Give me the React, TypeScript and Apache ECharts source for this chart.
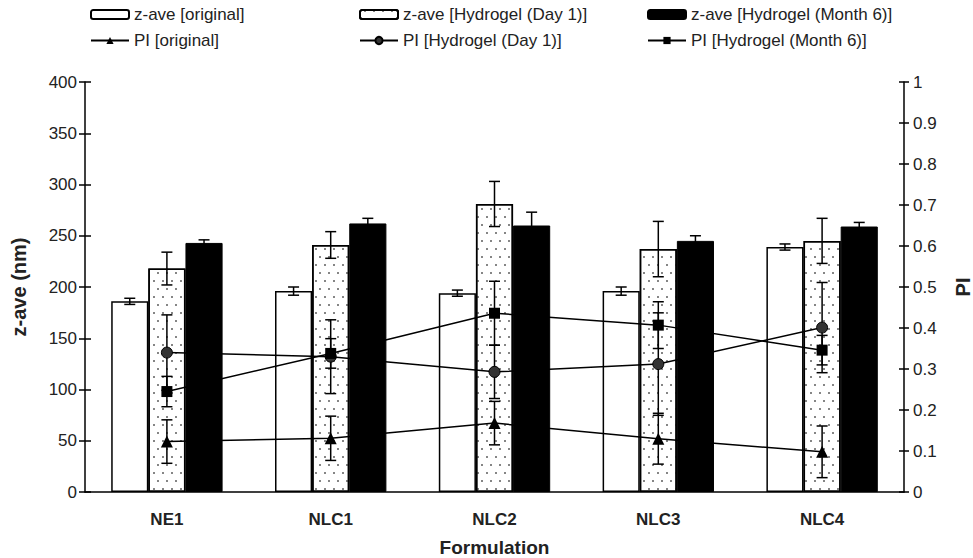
import React, { useEffect, useRef } from "react";
import * as echarts from "echarts";

const categories = ["NE1", "NLC1", "NLC2", "NLC3", "NLC4"];

const zOriginal = [186, 196, 194, 196, 239];
const zOriginalErr = [3, 4, 3, 4, 3];
const zDay1 = [218, 241, 281, 237, 245];
const zDay1Err = [16, 13, 22, 27, 22];
const zMonth6 = [243, 262, 260, 245, 259];
const zMonth6Err = [3, 5, 13, 5, 4];

const piOriginal = [0.123, 0.131, 0.168, 0.13, 0.098];
const piOriginalErr = [0.053, 0.054, 0.053, 0.062, 0.063];
const piDay1 = [0.34, 0.33, 0.293, 0.312, 0.401];
const piDay1Err = [0.092, 0.09, 0.065, 0.125, 0.11];
const piMonth6 = [0.245, 0.338, 0.436, 0.407, 0.346];
const piMonth6Err = [0.037, 0.036, 0.078, 0.057, 0.036];

const names = {
  zo: "z-ave [original]",
  zd: "z-ave [Hydrogel (Day 1)]",
  zm: "z-ave [Hydrogel (Month 6)]",
  po: "PI [original]",
  pd: "PI [Hydrogel (Day 1)]",
  pm: "PI [Hydrogel (Month 6)]",
};

const FONT = "'Liberation Sans', Arial, sans-serif";
const CAT_GAP = 0.32;

function errRender(offset: number) {
  return (params: any, api: any) => {
    const i = api.value(0);
    const v = api.value(1);
    const e = api.value(2);
    const c = api.coord([i, v]);
    const band = api.size([1, 0])[0];
    const bw = (band * (1 - CAT_GAP)) / 3;
    const x = c[0] + offset * bw;
    const yt = api.coord([i, v + e])[1];
    const yb = api.coord([i, v - e])[1];
    const h = 5.5;
    const style = { stroke: "#000", lineWidth: 1.5 };
    return {
      type: "group",
      children: [
        { type: "line", shape: { x1: x, y1: yt, x2: x, y2: yb }, style },
        { type: "line", shape: { x1: x - h, y1: yt, x2: x + h, y2: yt }, style },
        { type: "line", shape: { x1: x - h, y1: yb, x2: x + h, y2: yb }, style },
      ],
    };
  };
}

function errData(vals: number[], errs: number[]) {
  return vals.map((v, i) => [i, v, errs[i]]);
}

function legendAt(name: string, left: number, top: number) {
  return {
    data: [name],
    left,
    top,
    itemWidth: 38,
    itemHeight: 9,
    itemGap: 0,
    padding: 0,
    selectedMode: false,
    textStyle: { fontSize: 17, color: "#222", fontFamily: FONT, padding: [0, 0, 0, 0] },
  };
}

export default function App() {
  const ref = useRef<HTMLDivElement>(null);
  useEffect(() => {
    if (!ref.current) return;
    const chart = echarts.init(ref.current, undefined, { renderer: "svg" });
    const axisLineStyle = { color: "#000", width: 1.5 };
    const labelStyle = { fontSize: 17, color: "#222", fontFamily: FONT };
    const titleStyle = { fontSize: 19, fontWeight: "bold" as const, color: "#222", fontFamily: FONT };
    chart.setOption({
      animation: false,
      backgroundColor: "#fff",
      textStyle: { fontFamily: FONT },
      grid: { left: 85, right: 69, top: 82, bottom: 66, containLabel: false, outerBoundsMode: "none" },
      legend: [
        legendAt(names.zo, 90, 6),
        legendAt(names.zd, 359, 6),
        legendAt(names.zm, 647, 6),
        legendAt(names.po, 90, 32),
        legendAt(names.pd, 359, 32),
        legendAt(names.pm, 647, 32),
      ],
      xAxis: [
        {
          type: "category",
          data: categories,
          axisLine: { lineStyle: axisLineStyle },
          axisTick: { length: 8, lineStyle: axisLineStyle },
          axisLabel: { ...labelStyle, fontWeight: "bold", margin: 19 },
          name: "Formulation",
          nameLocation: "middle",
          nameGap: 46,
          nameTextStyle: titleStyle,
        },
        {
          type: "category",
          data: categories,
          position: "bottom",
          axisLine: { show: false },
          axisTick: { inside: true, length: 4, lineStyle: axisLineStyle },
          axisLabel: { show: false },
        },
      ],
      yAxis: [
        {
          type: "value",
          min: 0,
          max: 400,
          interval: 50,
          position: "left",
          axisLine: { show: true, lineStyle: axisLineStyle },
          axisTick: { show: true, length: 6, lineStyle: axisLineStyle },
          axisLabel: { ...labelStyle, margin: 8 },
          splitLine: { show: false },
          name: "z-ave (nm)",
          nameLocation: "middle",
          nameGap: 56,
          nameRotate: 90,
          nameTextStyle: { ...titleStyle, fontSize: 20 },
        },
        {
          type: "value",
          min: 0,
          max: 1,
          interval: 0.1,
          position: "right",
          axisLine: { show: true, lineStyle: axisLineStyle },
          axisTick: { show: true, length: 5, lineStyle: axisLineStyle },
          axisLabel: { ...labelStyle, margin: 9 },
          splitLine: { show: false },
          name: "PI",
          nameLocation: "middle",
          nameGap: 49,
          nameRotate: 90,
          nameTextStyle: { ...titleStyle, fontSize: 20 },
        },
        {
          type: "value",
          min: 0,
          max: 400,
          interval: 50,
          position: "left",
          axisLine: { show: false },
          axisTick: { show: true, inside: true, length: 6, lineStyle: axisLineStyle },
          axisLabel: { show: false },
          splitLine: { show: false },
        },
        {
          type: "value",
          min: 0,
          max: 1,
          interval: 0.1,
          position: "right",
          axisLine: { show: false },
          axisTick: { show: true, inside: true, length: 5, lineStyle: axisLineStyle },
          axisLabel: { show: false },
          splitLine: { show: false },
        },
      ],
      series: [
        {
          name: names.zo,
          type: "bar",
          data: zOriginal,
          barGap: "0%",
          barCategoryGap: "32%",
          itemStyle: { color: "#fff", borderColor: "#000", borderWidth: 1.5 },
          z: 2,
        },
        {
          name: names.zd,
          type: "bar",
          data: zDay1,
          barGap: "0%",
          barCategoryGap: "32%",
          itemStyle: {
            color: "#fff",
            borderColor: "#000",
            borderWidth: 1.5,
            decal: {
              symbol: "rect",
              symbolSize: 0.8,
              color: "#333",
              dashArrayX: [
                [2, 7],
                [0, 4, 2, 3],
              ],
              dashArrayY: [2, 6],
            },
          },
          z: 2,
        },
        {
          name: names.zm,
          type: "bar",
          data: zMonth6,
          barGap: "0%",
          barCategoryGap: "32%",
          itemStyle: { color: "#000", borderColor: "#000", borderWidth: 1 },
          z: 2,
        },
        {
          type: "custom",
          renderItem: errRender(-1),
          data: errData(zOriginal, zOriginalErr),
          encode: { x: 0, y: 1 },
          z: 3,
        },
        {
          type: "custom",
          renderItem: errRender(0),
          data: errData(zDay1, zDay1Err),
          encode: { x: 0, y: 1 },
          z: 3,
        },
        {
          type: "custom",
          renderItem: errRender(1),
          data: errData(zMonth6, zMonth6Err),
          encode: { x: 0, y: 1 },
          z: 3,
        },
        {
          name: names.po,
          type: "line",
          yAxisIndex: 1,
          data: piOriginal,
          symbol: "triangle",
          symbolSize: 12,
          lineStyle: { color: "#000", width: 1.5 },
          itemStyle: { color: "#000" },
          z: 5,
        },
        {
          name: names.pd,
          type: "line",
          yAxisIndex: 1,
          data: piDay1,
          symbol: "circle",
          symbolSize: 11,
          lineStyle: { color: "#000", width: 1.5 },
          itemStyle: { color: "#333", borderColor: "#000", borderWidth: 1 },
          z: 5,
        },
        {
          name: names.pm,
          type: "line",
          yAxisIndex: 1,
          data: piMonth6,
          symbol: "rect",
          symbolSize: 11,
          lineStyle: { color: "#000", width: 1.5 },
          itemStyle: { color: "#000" },
          z: 5,
        },
        {
          type: "custom",
          yAxisIndex: 1,
          renderItem: errRender(0),
          data: errData(piOriginal, piOriginalErr),
          encode: { x: 0, y: 1 },
          z: 4,
        },
        {
          type: "custom",
          yAxisIndex: 1,
          renderItem: errRender(0),
          data: errData(piDay1, piDay1Err),
          encode: { x: 0, y: 1 },
          z: 4,
        },
        {
          type: "custom",
          yAxisIndex: 1,
          renderItem: errRender(0),
          data: errData(piMonth6, piMonth6Err),
          encode: { x: 0, y: 1 },
          z: 4,
        },
      ],
    });
    return () => chart.dispose();
  }, []);
  return (
    <div
      ref={ref}
      style={{ position: "fixed", left: 0, top: 0, width: 973, height: 558, background: "#fff" }}
    />
  );
}
